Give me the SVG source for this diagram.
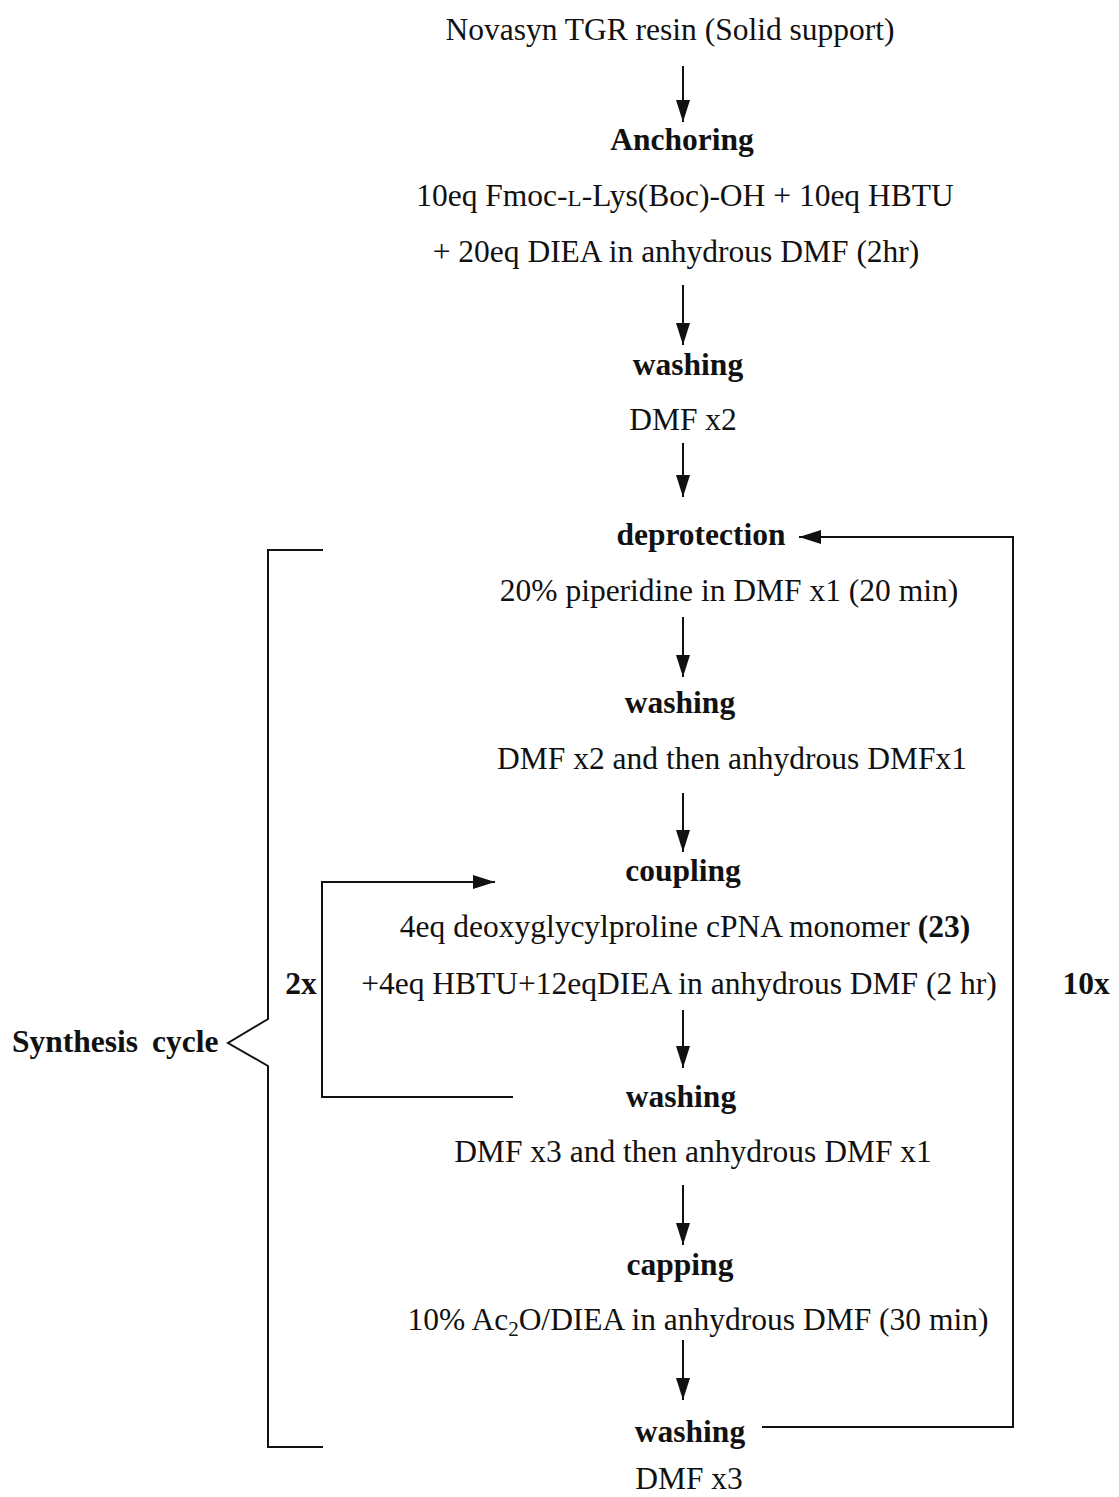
<svg xmlns="http://www.w3.org/2000/svg" width="1119" height="1497" viewBox="0 0 1119 1497">
<style>
text{font-family:"Liberation Serif","Times New Roman",serif;font-size:31.5px;fill:#111;}
.c{text-anchor:middle;}
.b{font-weight:bold;}
.ln{stroke:#111;stroke-width:2;fill:none;}
</style>
<defs>
<marker id="ah" markerWidth="22" markerHeight="14" refX="22" refY="7" viewBox="0 0 22 14" markerUnits="userSpaceOnUse" orient="auto">
<path d="M0,0 L22,7 L0,14 Z" fill="#111"/>
</marker>
</defs>
<rect width="1119" height="1497" fill="#fff"/>
<g id="connectors">
<line class="ln" x1="683" y1="66" x2="683" y2="122" marker-end="url(#ah)"/>
<line class="ln" x1="683" y1="285" x2="683" y2="345" marker-end="url(#ah)"/>
<line class="ln" x1="683" y1="443" x2="683" y2="497" marker-end="url(#ah)"/>
<line class="ln" x1="683" y1="617" x2="683" y2="677" marker-end="url(#ah)"/>
<line class="ln" x1="683" y1="793" x2="683" y2="852" marker-end="url(#ah)"/>
<line class="ln" x1="683" y1="1010" x2="683" y2="1068" marker-end="url(#ah)"/>
<line class="ln" x1="683" y1="1185" x2="683" y2="1245" marker-end="url(#ah)"/>
<line class="ln" x1="683" y1="1340" x2="683" y2="1400" marker-end="url(#ah)"/>
<polyline class="ln" points="762,1427 1013,1427 1013,537 799,537" marker-end="url(#ah)"/>
<polyline class="ln" points="513,1097 322,1097 322,882 495,882" marker-end="url(#ah)"/>
<polyline class="ln" points="323,550 268,550 268,1019 228,1043 268,1066 268,1447 323,1447"/>
</g>
<g id="n-resin"><text class="c" x="670" y="40">Novasyn TGR resin (Solid support)</text></g>
<g id="n-anchoring">
<text class="c b" x="682" y="150">Anchoring</text>
<text class="c" x="685" y="206">10eq Fmoc-<tspan font-size="23">L</tspan>-Lys(Boc)-OH + 10eq HBTU</text>
<text class="c" x="676" y="262">+ 20eq DIEA in anhydrous DMF (2hr)</text>
</g>
<g id="n-washing1">
<text class="c b" x="688" y="375">washing</text>
<text class="c" x="683" y="430">DMF x2</text>
</g>
<g id="n-deprotection">
<text class="c b" x="701" y="545">deprotection</text>
<text class="c" x="729" y="601">20% piperidine in DMF x1 (20 min)</text>
</g>
<g id="n-washing2">
<text class="c b" x="680" y="713">washing</text>
<text class="c" x="732" y="769">DMF x2 and then anhydrous DMFx1</text>
</g>
<g id="n-coupling">
<text class="c b" x="683" y="881">coupling</text>
<text class="c" x="685" y="937">4eq deoxyglycylproline cPNA monomer <tspan class="b">(23)</tspan></text>
<text class="c" x="679" y="994">+4eq HBTU+12eqDIEA in anhydrous DMF (2 hr)</text>
</g>
<g id="n-washing3">
<text class="c b" x="681" y="1107">washing</text>
<text class="c" x="693" y="1162">DMF x3 and then anhydrous DMF x1</text>
</g>
<g id="n-capping">
<text class="c b" x="680" y="1275">capping</text>
<text class="c" x="698" y="1330">10% Ac<tspan font-size="21" dy="6">2</tspan><tspan dy="-6">O/DIEA in anhydrous DMF (30 min)</tspan></text>
</g>
<g id="n-washing4">
<text class="c b" x="690" y="1442">washing</text>
<text class="c" x="689" y="1489">DMF x3</text>
</g>
<g id="labels">
<text class="c b" x="301" y="994">2x</text>
<text class="c b" x="1086" y="994">10x</text>
<text class="b" x="12" y="1052" style="word-spacing:6px">Synthesis cycle</text>
</g>
</svg>
